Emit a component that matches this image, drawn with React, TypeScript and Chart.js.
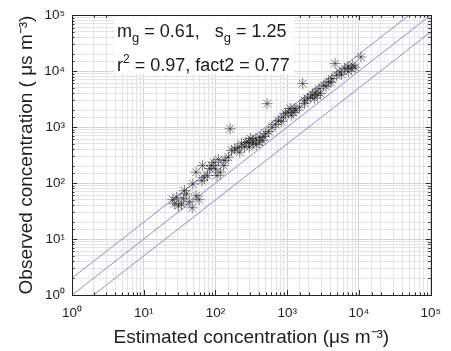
import React, { useEffect, useRef } from 'react';
import { Chart, registerables } from 'chart.js';

Chart.register(...registerables);

// Scatter data: estimated (x) vs observed (y) concentration
const estimated = [
  25.4, 28.8, 30.6, 33.7, 35.8, 39.3, 43.2, 47.4, 53.7, 58.9,
  48.4, 53.7, 66.1, 69.5, 77.3, 83.0, 94.9, 100, 105, 117,
  130, 151, 168, 186, 218, 230, 268, 297, 329, 366,
  406, 450, 306, 370, 500, 614, 755, 883, 1032, 1143,
  1271, 1485, 1734, 2130, 2489, 2767, 2910, 3230, 3776, 4185,
  4890, 5420, 6330, 7030, 7800, 8220, 10640, 160, 525, 1645,
  4640, 288, 337, 254, 205, 1205, 1324, 1098, 1922, 2246,
  2390, 2622, 940, 689, 553, 474, 419, 829, 3472, 5710,
  7100, 8830, 136, 88.3, 110, 64.7, 36.9, 27.1, 1750, 4055,
];
const observed = [
  50.4, 55.4, 39.4, 42.2, 52.5, 63.8, 46.4, 36.2, 59.4, 50.4,
  96.4, 156, 205, 127, 136, 181, 235, 179, 136, 156,
  205, 289, 381, 408, 355, 502, 536, 436, 575, 617,
  536, 575, 625, 488, 758, 996, 1313, 1504, 1849, 1614,
  2128, 2274, 2998, 3434, 4220, 4855, 3954, 5570, 6380, 7340,
  8410, 9640, 11090, 11840, 11090, 12700, 17900, 933, 2617, 5970,
  13620, 530, 508, 449, 431, 1827, 1984, 2154, 3255, 3840,
  3255, 3683, 1754, 1113, 834, 679, 651, 1259, 5340, 8770,
  9910, 11700, 252, 205, 263, 110, 73.1, 42.7, 2650, 6300,
];

// Reference lines: 1:1, factor-of-2 above and below
const oneToOneX = [1, 100000];
const oneToOneY = [1, 100000];
const upperX = [1, 50000];
const upperY = [2, 100000];
const lowerX = [2, 100000];
const lowerY = [1, 50000];

const axisMin = 1;
const axisMax = 100000;

const xTitle = 'Estimated concentration (\u03bcs m\u207b\u00b3)';
const yTitle = 'Observed concentration ( \u03bcs m\u207b\u00b3)';

const statLine1 = ['m', 'g', ' = 0.61,   s', 'g', ' = 1.25'];
const statLine2 = ['r', '2', ' = 0.97, fact2 = 0.77'];

const FONT = '"Liberation Sans", Arial, Helvetica, sans-serif';
const SUP: Record<string, string> = {
  '0': '\u2070', '1': '\u00b9', '2': '\u00b2', '3': '\u00b3', '4': '\u2074',
  '5': '\u2075', '6': '\u2076', '7': '\u2077', '8': '\u2078', '9': '\u2079', '-': '\u207b',
};

const isPow10 = (v: number) => {
  const l = Math.log10(v);
  return Math.abs(l - Math.round(l)) < 1e-6;
};
const supStr = (n: number) => String(n).split('').map((c) => SUP[c] || c).join('');

const pts = (xs: number[], ys: number[]) => xs.map((x, i) => ({ x, y: ys[i] }));

export default function App() {
  const ref = useRef<HTMLCanvasElement>(null);

  useEffect(() => {
    if (!ref.current) return;

    const framePlugin = {
      id: 'frameAndTicks',
      afterDatasetsDraw(chart: any) {
        const { ctx, chartArea } = chart;
        const { left, right, top, bottom } = chartArea;
        ctx.save();
        ctx.strokeStyle = '#2a2a2a';
        ctx.lineWidth = 1;
        const xs = chart.scales.x;
        const ys = chart.scales.y;
        ctx.beginPath();
        xs.ticks.forEach((t: any) => {
          const p = Math.round(xs.getPixelForValue(t.value)) + 0.5;
          const len = isPow10(t.value) ? 5 : 2.5;
          ctx.moveTo(p, bottom);
          ctx.lineTo(p, bottom - len);
          ctx.moveTo(p, top);
          ctx.lineTo(p, top + len);
        });
        ys.ticks.forEach((t: any) => {
          const p = Math.round(ys.getPixelForValue(t.value)) + 0.5;
          const len = isPow10(t.value) ? 5 : 2.5;
          ctx.moveTo(left, p);
          ctx.lineTo(left + len, p);
          ctx.moveTo(right, p);
          ctx.lineTo(right - len, p);
        });
        ctx.stroke();
        ctx.strokeStyle = '#222';
        ctx.strokeRect(Math.round(left) + 0.5, Math.round(top) + 0.5, Math.round(right - left), Math.round(bottom - top));
        ctx.restore();
      },
    };

    const statsPlugin = {
      id: 'stats',
      afterDraw(chart: any) {
        const { ctx, chartArea } = chart;
        const bx = chartArea.left + 42;
        const by = chartArea.top + 1;
        ctx.save();
        ctx.fillStyle = '#ffffff';
        ctx.fillRect(bx, by, 180, 58);
        ctx.fillStyle = '#1a1a1a';
        ctx.textBaseline = 'alphabetic';
        ctx.textAlign = 'left';
        // line 1 with subscripts
        let x = bx + 3;
        const base1 = chartArea.top + 22;
        statLine1.forEach((s, i) => {
          const sub = i === 1 || i === 3;
          ctx.font = sub ? `13px ${FONT}` : `18px ${FONT}`;
          ctx.fillText(s, x, sub ? base1 + 5 : base1);
          x += ctx.measureText(s).width;
        });
        // line 2 with superscript
        x = bx + 3;
        const base2 = chartArea.top + 56;
        statLine2.forEach((s, i) => {
          const sup = i === 1;
          ctx.font = sup ? `12px ${FONT}` : `18px ${FONT}`;
          ctx.fillText(s, x, sup ? base2 - 8 : base2);
          x += ctx.measureText(s).width;
        });
        ctx.restore();
      },
    };

    const lineColor = '#8c8cdc';
    const gridColor = (c: any) => (c.tick && isPow10(c.tick.value) ? '#d2d2d2' : '#e4e4e4');

    const chart = new Chart(ref.current, {
      type: 'scatter',
      data: {
        datasets: [
          {
            label: 'Observed vs estimated',
            data: pts(estimated, observed),
            pointStyle: 'star',
            pointRadius: 5.5,
            borderColor: 'rgba(25,25,25,0.55)',
            backgroundColor: 'rgba(25,25,25,0.55)',
            borderWidth: 1,
            showLine: false,
          },
          {
            label: '1:1',
            data: pts(oneToOneX, oneToOneY),
            showLine: true,
            borderColor: lineColor,
            borderWidth: 1,
            pointRadius: 0,
          },
          {
            label: 'factor 2 above',
            data: pts(upperX, upperY),
            showLine: true,
            borderColor: lineColor,
            borderWidth: 1,
            pointRadius: 0,
          },
          {
            label: 'factor 2 below',
            data: pts(lowerX, lowerY),
            showLine: true,
            borderColor: lineColor,
            borderWidth: 1,
            pointRadius: 0,
          },
        ],
      },
      options: {
        responsive: false,
        animation: false,
        devicePixelRatio: 1,
        layout: { padding: { top: 15, right: 10, left: 0, bottom: 0 } },
        plugins: {
          legend: { display: false },
          tooltip: { enabled: false },
          title: { display: false },
        },
        scales: {
          x: {
            type: 'logarithmic',
            min: axisMin,
            max: axisMax,
            border: { display: false },
            grid: { color: gridColor, lineWidth: 1, drawTicks: false },
            ticks: {
              autoSkip: false,
              maxRotation: 0,
              padding: 10,
              color: '#1e1e1e',
              font: { family: FONT, size: 13.5 },
              callback: (v: any) => (isPow10(Number(v)) ? '10' + supStr(Math.round(Math.log10(Number(v)))) : ''),
            },
            title: {
              display: true,
              text: xTitle,
              color: '#1e1e1e',
              font: { family: FONT, size: 19 },
              padding: { top: 0, bottom: 2 },
            },
            afterFit: (s: any) => {
              s.height = 56;
            },
          },
          y: {
            type: 'logarithmic',
            min: axisMin,
            max: axisMax,
            border: { display: false },
            grid: { color: gridColor, lineWidth: 1, drawTicks: false },
            ticks: {
              autoSkip: false,
              padding: 7,
              color: '#1e1e1e',
              font: { family: FONT, size: 13.5 },
              callback: (v: any) => (isPow10(Number(v)) ? '10' + supStr(Math.round(Math.log10(Number(v)))) : ''),
            },
            title: {
              display: true,
              text: yTitle,
              color: '#1e1e1e',
              font: { family: FONT, size: 19 },
              padding: { top: 15, bottom: 0 },
            },
            afterFit: (s: any) => {
              s.width = 72;
            },
          },
        },
      },
      plugins: [framePlugin, statsPlugin],
    } as any);

    return () => chart.destroy();
  }, []);

  return (
    <div style={{ position: 'absolute', left: 0, top: 0, width: 451, height: 351, background: '#fff' }}>
      <canvas ref={ref} width={451} height={351} />
    </div>
  );
}
